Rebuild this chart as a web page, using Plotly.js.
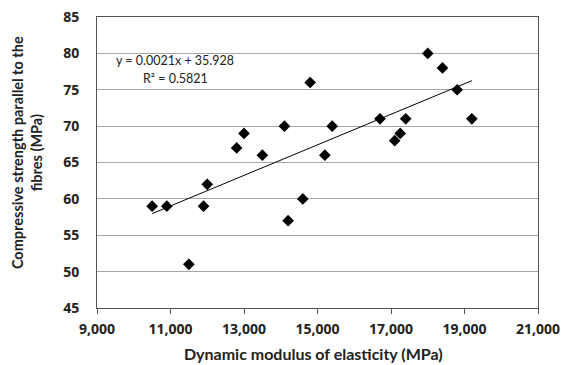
<!DOCTYPE html>
<html>
<head>
<meta charset="utf-8">
<script src="https://cdn.plot.ly/plotly-3.0.1.min.js"></script>
<style>html,body{margin:0;padding:0;background:#fff;}#chart{width:561px;height:365px;}</style>
</head>
<body>
<div id="chart"></div>
<script>
// Data
const modulusMPa = [10500, 10900, 11500, 11900, 12000, 12800, 13000, 13500, 14100, 14200, 14600, 14800, 15200, 15400, 16700, 17100, 17250, 17400, 18000, 18400, 18800, 19200];
const strengthMPa = [59, 59, 51, 59, 62, 67, 69, 66, 70, 57, 60, 76, 66, 70, 71, 68, 69, 71, 80, 78, 75, 71];
const trendSlope = 0.0021;
const trendIntercept = 35.928;
const trendLabel = ["y = 0.0021x + 35.928", "R\u00b2 = 0.5821"];
const xTicks = [9000, 11000, 13000, 15000, 17000, 19000, 21000];
const yTicks = [45, 50, 55, 60, 65, 70, 75, 80, 85];

const xMin = Math.min(...modulusMPa), xMax = Math.max(...modulusMPa);
const trendX = [xMin, xMax];
const trendY = trendX.map(v => trendSlope * v + trendIntercept);

const FONT = "Lato, 'Open Sans', sans-serif";
const TICKFONT = "'Open Sans', Lato, sans-serif";

const traces = [
  {
    x: trendX, y: trendY, type: 'scatter', mode: 'lines',
    line: {color: '#000', width: 1}, hoverinfo: 'skip', showlegend: false
  },
  {
    x: modulusMPa, y: strengthMPa, type: 'scatter', mode: 'markers',
    marker: {symbol: 'diamond', size: 9, color: '#000'}, showlegend: false
  }
];

const layout = {
  width: 561, height: 365,
  margin: {l: 97, r: 23, t: 17, b: 57},
  paper_bgcolor: '#fff', plot_bgcolor: '#fff',
  font: {family: FONT, color: '#222'},
  showlegend: false,
  xaxis: {
    range: [9000, 21000], tickvals: xTicks, ticktext: xTicks.map(v => '<b>' + v.toLocaleString('en-US') + '</b>'),
    showgrid: false, zeroline: false,
    showline: true, linecolor: '#555', linewidth: 1, mirror: true,
    ticks: 'outside', ticklen: 5, tickcolor: '#555', tickwidth: 1,
    tickfont: {family: TICKFONT, size: 14, color: '#222'},
    ticklabelstandoff: 3
  },
  yaxis: {
    range: [45, 85], tickvals: yTicks, ticktext: yTicks.map(v => '<b>' + v + '</b>'),
    showgrid: true, gridcolor: '#a6a6a6', gridwidth: 1, zeroline: false,
    showline: true, linecolor: '#555', linewidth: 1, mirror: true,
    ticks: '',
    tickfont: {family: TICKFONT, size: 14, color: '#222'},
    ticklabelstandoff: 14
  },
  annotations: [
    {
      xref: 'paper', yref: 'paper', x: 0.49, y: -0.158, xanchor: 'center', yanchor: 'middle',
      showarrow: false, align: 'center',
      text: '<b>Dynamic modulus of elasticity (MPa)</b>',
      font: {family: FONT, size: 16, color: '#222'}
    },
    {
      xref: 'paper', yref: 'paper', x: -0.157, y: 0.535, xanchor: 'center', yanchor: 'middle',
      textangle: -90, showarrow: false, align: 'center',
      text: '<b>Compressive strength parallel to the<br>fibres (MPa)</b>',
      font: {family: FONT, size: 14.5, color: '#222'}
    },
    {
      xref: 'paper', yref: 'paper', x: 0.177, y: 0.852, xanchor: 'center', yanchor: 'middle',
      showarrow: false, align: 'left',
      text: trendLabel[0], font: {family: FONT, size: 12.5, color: '#222'}
    },
    {
      xref: 'paper', yref: 'paper', x: 0.177, y: 0.79, xanchor: 'center', yanchor: 'middle',
      showarrow: false, align: 'left',
      text: trendLabel[1], font: {family: FONT, size: 12.5, color: '#222'}
    }
  ]
};

Plotly.newPlot('chart', traces, layout, {displayModeBar: false, staticPlot: true});
</script>
</body>
</html>
